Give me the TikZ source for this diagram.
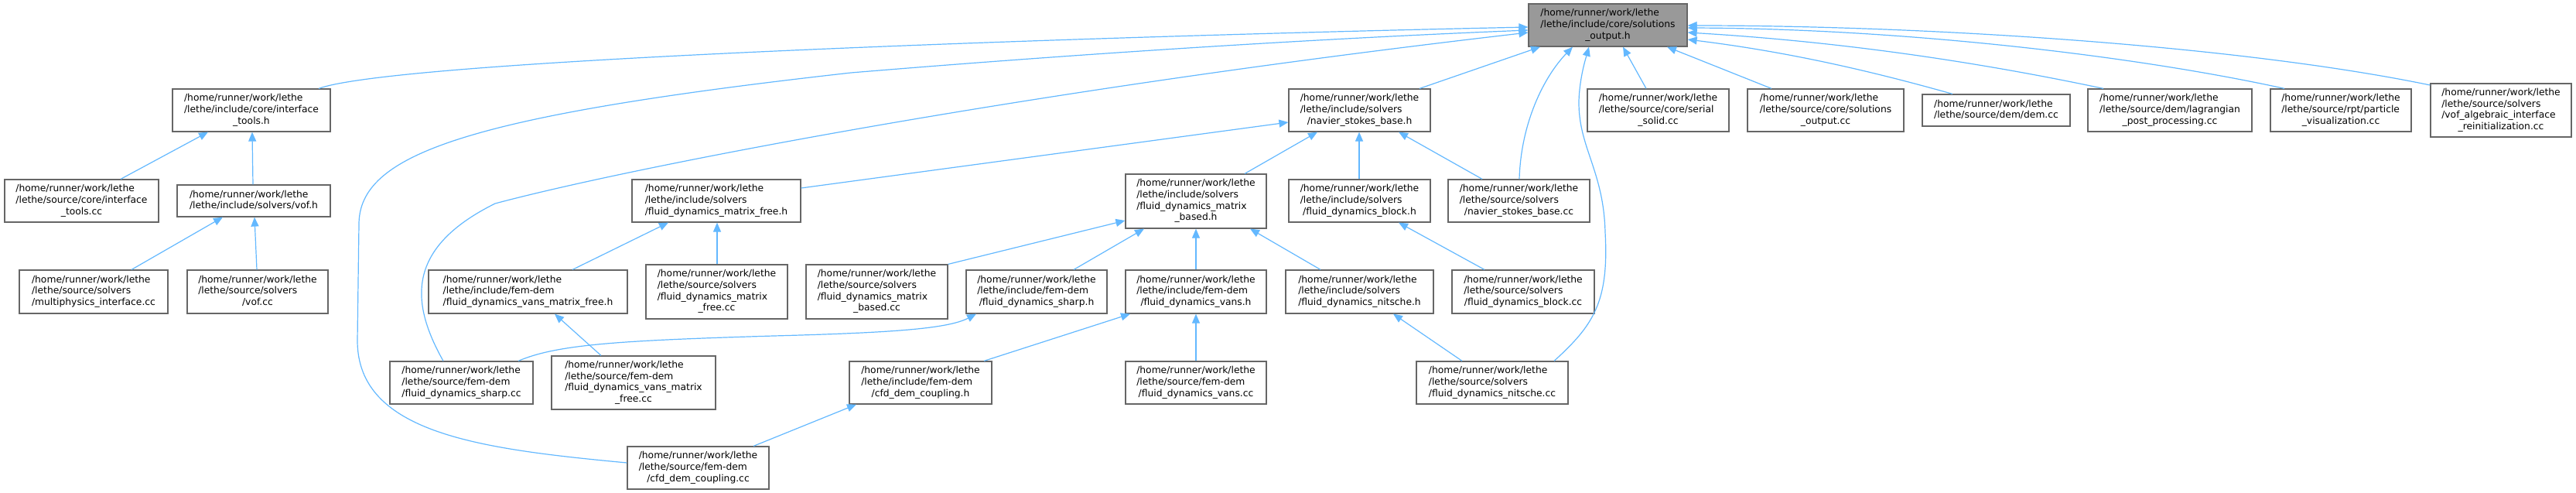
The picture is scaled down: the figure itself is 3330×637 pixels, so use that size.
\documentclass[tikz,border=0pt]{standalone}
\usepackage{fontspec}
\setmainfont{DejaVu Sans}
\usetikzlibrary{arrows.meta}
\definecolor{edgecol}{HTML}{63B8FF}
\definecolor{boxline}{HTML}{666666}
\definecolor{rootfill}{HTML}{999999}
\newcommand\nt[2]{\begin{tabular}{@{}l@{}}#1\\\multicolumn{1}{@{}c@{}}{#2}\end{tabular}}
\begin{document}
\begin{tikzpicture}[x=1pt,y=-1pt,
  box/.style={draw=boxline, line width=1.2pt, fill=white, inner sep=0pt, font=\fontsize{12.3}{14.7}\selectfont},
  rootbox/.style={box, fill=rootfill},
  lrtb/.style n args={4}{minimum width={#3-#1}, minimum height={#4-#2}, at={({(#1+#3)/2},{(#2+#4)/2})}},
  edge/.style={draw=edgecol, line width=1.2pt, -{Triangle[length=12pt,width=10pt]}},
]
\useasboundingbox (0,0) rectangle (3330,637);

\node[rootbox, lrtb={1976}{5}{2181}{60}] (root) {\nt{/home/runner/work/lethe\\/lethe/include/core/solutions}{\_output.h}};
\node[box, lrtb={223}{115}{427}{170}] (itoolsh) {\nt{/home/runner/work/lethe\\/lethe/include/core/interface}{\_tools.h}};
\node[box, lrtb={6}{232}{205}{287}] (itoolscc) {\nt{/home/runner/work/lethe\\/lethe/source/core/interface}{\_tools.cc}};
\node[box, lrtb={229}{239}{427}{280}] (vofh) {\nt{/home/runner/work/lethe}{/lethe/include/solvers/vof.h}};
\node[box, lrtb={817}{232}{1035}{287}] (mfreeh) {\nt{/home/runner/work/lethe\\/lethe/include/solvers}{/fluid\_dynamics\_matrix\_free.h}};
\node[box, lrtb={25}{349}{217}{405}] (multicc) {\nt{/home/runner/work/lethe\\/lethe/source/solvers}{/multiphysics\_interface.cc}};
\node[box, lrtb={242}{349}{424}{405}] (vofcc) {\nt{/home/runner/work/lethe\\/lethe/source/solvers}{/vof.cc}};
\node[box, lrtb={554}{349}{811}{405}] (vansmfh) {\nt{/home/runner/work/lethe\\/lethe/include/fem-dem}{/fluid\_dynamics\_vans\_matrix\_free.h}};
\node[box, lrtb={835}{342}{1018}{412}] (mfreecc) {\nt{/home/runner/work/lethe\\/lethe/source/solvers\\/fluid\_dynamics\_matrix}{\_free.cc}};
\node[box, lrtb={1042}{342}{1225}{412}] (mbasedcc) {\nt{/home/runner/work/lethe\\/lethe/source/solvers\\/fluid\_dynamics\_matrix}{\_based.cc}};
\node[box, lrtb={504}{467}{689}{522}] (sharpcc) {\nt{/home/runner/work/lethe\\/lethe/source/fem-dem}{/fluid\_dynamics\_sharp.cc}};
\node[box, lrtb={713}{460}{925}{529}] (vansmfcc) {\nt{/home/runner/work/lethe\\/lethe/source/fem-dem\\/fluid\_dynamics\_vans\_matrix}{\_free.cc}};
\node[box, lrtb={811}{577}{994}{632}] (cfdcc) {\nt{/home/runner/work/lethe\\/lethe/source/fem-dem}{/cfd\_dem\_coupling.cc}};
\node[box, lrtb={1666}{115}{1849}{170}] (nsbh) {\nt{/home/runner/work/lethe\\/lethe/include/solvers}{/navier\_stokes\_base.h}};
\node[box, lrtb={2052}{115}{2235}{170}] (serialcc) {\nt{/home/runner/work/lethe\\/lethe/source/core/serial}{\_solid.cc}};
\node[box, lrtb={1455}{225}{1637}{295}] (mbasedh) {\nt{/home/runner/work/lethe\\/lethe/include/solvers\\/fluid\_dynamics\_matrix}{\_based.h}};
\node[box, lrtb={1666}{232}{1849}{287}] (blockh) {\nt{/home/runner/work/lethe\\/lethe/include/solvers}{/fluid\_dynamics\_block.h}};
\node[box, lrtb={1872}{232}{2055}{287}] (nsbcc) {\nt{/home/runner/work/lethe\\/lethe/source/solvers}{/navier\_stokes\_base.cc}};
\node[box, lrtb={1249}{349}{1431}{405}] (sharph) {\nt{/home/runner/work/lethe\\/lethe/include/fem-dem}{/fluid\_dynamics\_sharp.h}};
\node[box, lrtb={1455}{349}{1637}{405}] (vansh) {\nt{/home/runner/work/lethe\\/lethe/include/fem-dem}{/fluid\_dynamics\_vans.h}};
\node[box, lrtb={1662}{349}{1853}{405}] (nitscheh) {\nt{/home/runner/work/lethe\\/lethe/include/solvers}{/fluid\_dynamics\_nitsche.h}};
\node[box, lrtb={1877}{349}{2061}{405}] (blockcc) {\nt{/home/runner/work/lethe\\/lethe/source/solvers}{/fluid\_dynamics\_block.cc}};
\node[box, lrtb={1098}{467}{1282}{522}] (cfdh) {\nt{/home/runner/work/lethe\\/lethe/include/fem-dem}{/cfd\_dem\_coupling.h}};
\node[box, lrtb={1455}{467}{1637}{522}] (vanscc) {\nt{/home/runner/work/lethe\\/lethe/source/fem-dem}{/fluid\_dynamics\_vans.cc}};
\node[box, lrtb={1831}{467}{2027}{522}] (nitschecc) {\nt{/home/runner/work/lethe\\/lethe/source/solvers}{/fluid\_dynamics\_nitsche.cc}};
\node[box, lrtb={2259}{115}{2461}{170}] (solcc) {\nt{/home/runner/work/lethe\\/lethe/source/core/solutions}{\_output.cc}};
\node[box, lrtb={2485}{122}{2676}{163}] (demcc) {\nt{/home/runner/work/lethe}{/lethe/source/dem/dem.cc}};
\node[box, lrtb={2699}{115}{2911}{170}] (lagcc) {\nt{/home/runner/work/lethe\\/lethe/source/dem/lagrangian}{\_post\_processing.cc}};
\node[box, lrtb={2935}{115}{3117}{170}] (partcc) {\nt{/home/runner/work/lethe\\/lethe/source/rpt/particle}{\_visualization.cc}};
\node[box, lrtb={3142}{108}{3324}{177}] (vofalgcc) {\nt{/home/runner/work/lethe\\/lethe/source/solvers\\/vof\_algebraic\_interface}{\_reinitialization.cc}};

% edges to root
\draw[edge] (itoolsh.north -| 412,0) .. controls (520,75) and (1500,45) .. (root.west |- 0,35);
\draw[edge] (cfdcc.west |- 0,598) .. controls (620,580) and (462,560) .. (462,440) -- (464,290) .. controls (464,200) and (600,150) .. (1100,94) .. controls (1450,65) and (1750,48) .. (root.west |- 0,39);
\draw[edge] (sharpcc.north -| 573,0) .. controls (530,390) and (525,320) .. (640,263) .. controls (800,220) and (1300,120) .. (root.west |- 0,42);
\draw[edge] (nitschecc.north -| 2009,0) .. controls (2060,420) and (2080,390) .. (2075,300) .. controls (2073,220) and (2040,190) .. (2041,130) .. controls (2042,100) and (2050,75) .. (root.south -| 2054,0);
\draw[edge] (nsbcc.north -| 1964,0) .. controls (1966,160) and (1995,100) .. (root.south -| 2033,0);
\draw[edge] (serialcc.north -| 2128,0) -- (root.south -| 2098,0);
\draw[edge] (nsbh.north -| 1835,0) -- (root.south -| 1991,0);
\draw[edge] (solcc.north -| 2290,0) -- (root.south -| 2155,0);
\draw[edge] (demcc.north -| 2524,0) .. controls (2430,95) and (2320,68) .. (root.east |- 0,51);
\draw[edge] (lagcc.north -| 2719,0) .. controls (2580,85) and (2400,55) .. (root.east |- 0,42);
\draw[edge] (partcc.north -| 2953,0) .. controls (2750,70) and (2450,37) .. (root.east |- 0,36);
\draw[edge] (vofalgcc.west |- 0,110) .. controls (2900,60) and (2500,33) .. (root.east |- 0,33);

% other edges
\draw[edge] (mfreeh.east |- 0,243) -- (nsbh.west |- 0,158);
\draw[edge] (itoolscc.north -| 156,0) -- (itoolsh.south -| 269,0);
\draw[edge] (vofh.north -| 327,0) -- (itoolsh.south -| 326,0);
\draw[edge] (multicc.north -| 170,0) -- (vofh.south -| 288,0);
\draw[edge] (vofcc.north -| 332,0) -- (vofh.south -| 329,0);
\draw[edge] (vansmfh.north -| 740,0) -- (mfreeh.south -| 864,0);
\draw[edge] (mfreecc.north -| 927,0) -- (mfreeh.south -| 927,0);
\draw[edge] (vansmfcc.north -| 777,0) -- (vansmfh.south -| 717,0);
\draw[edge] (sharpcc.north -| 670,0) .. controls (720,445) and (800,440) .. (1000,434) .. controls (1150,430) and (1225,425) .. (sharph.south -| 1262,0);
\draw[edge] (cfdh.north -| 1272,0) -- (vansh.south -| 1461,0);
\draw[edge] (cfdcc.north -| 974,0) -- (cfdh.south -| 1107,0);
\draw[edge] (vanscc.north -| 1546,0) -- (vansh.south -| 1546,0);
\draw[edge] (nitschecc.north -| 1890,0) -- (nitscheh.south -| 1801,0);
\draw[edge] (mbasedh.north -| 1609,0) -- (nsbh.south -| 1703,0);
\draw[edge] (blockh.north -| 1757,0) -- (nsbh.south -| 1757,0);
\draw[edge] (nsbcc.north -| 1916,0) -- (nsbh.south -| 1808,0);
\draw[edge] (mbasedcc.north east) -- (mbasedh.west |- 0,285);
\draw[edge] (sharph.north -| 1388,0) -- (mbasedh.south -| 1479,0);
\draw[edge] (vansh.north -| 1546,0) -- (mbasedh.south -| 1546,0);
\draw[edge] (nitscheh.north -| 1707,0) -- (mbasedh.south -| 1616,0);
\draw[edge] (blockcc.north -| 1919,0) -- (blockh.south -| 1808,0);
\end{tikzpicture}
\end{document}
